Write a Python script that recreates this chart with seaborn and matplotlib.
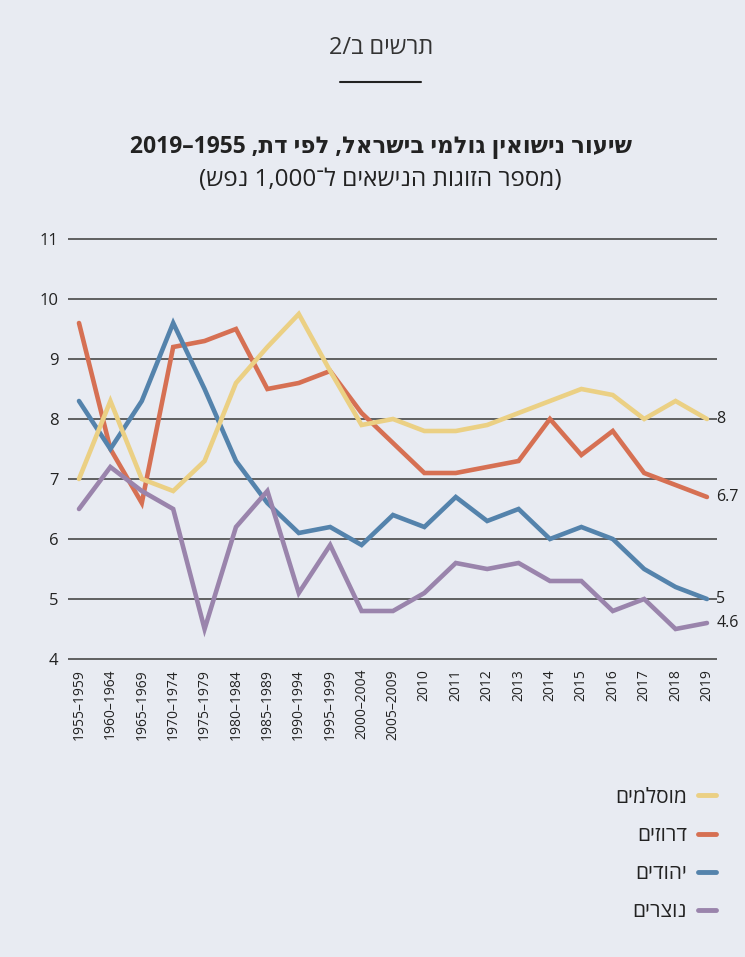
import re
import pandas as pd
import matplotlib
matplotlib.use("Agg")
import matplotlib.pyplot as plt
import seaborn as sns
from matplotlib.lines import Line2D

periods = ["1955–1959", "1960–1964", "1965–1969", "1970–1974", "1975–1979",
           "1980–1984", "1985–1989", "1990–1994", "1995–1999", "2000–2004",
           "2005–2009", "2010", "2011", "2012", "2013", "2014", "2015",
           "2016", "2017", "2018", "2019"]

muslims = [7.0, 8.3, 7.0, 6.8, 7.3, 8.6, 9.2, 9.75, 8.8, 7.9, 8.0,
           7.8, 7.8, 7.9, 8.1, 8.3, 8.5, 8.4, 8.0, 8.3, 8.0]
druze = [9.6, 7.5, 6.6, 9.2, 9.3, 9.5, 8.5, 8.6, 8.8, 8.1, 7.6,
         7.1, 7.1, 7.2, 7.3, 8.0, 7.4, 7.8, 7.1, 6.9, 6.7]
jews = [8.3, 7.5, 8.3, 9.6, 8.5, 7.3, 6.6, 6.1, 6.2, 5.9, 6.4,
        6.2, 6.7, 6.3, 6.5, 6.0, 6.2, 6.0, 5.5, 5.2, 5.0]
christians = [6.5, 7.2, 6.8, 6.5, 4.5, 6.2, 6.8, 5.1, 5.9, 4.8, 4.8,
              5.1, 5.6, 5.5, 5.6, 5.3, 5.3, 4.8, 5.0, 4.5, 4.6]

groups = ["מוסלמים", "דרוזים", "יהודים", "נוצרים"]
colors = ["#ebd084", "#d67053", "#5483ac", "#9a84ac"]
end_labels = ["8", "6.7", "5", "4.6"]

BG = "#e8ebf2"


def rtl(s):
    # matplotlib has no bidi support: reverse to visual order, keep numbers
    rev = s[::-1]
    rev = re.sub(r"[0-9][0-9,.]*[0-9]|[0-9]", lambda m: m.group(0)[::-1], rev)
    return rev.translate(str.maketrans("()", ")("))


def main():
    series = [muslims, druze, jews, christians]
    rows = []
    for name, vals in zip(groups, series):
        for i, v in enumerate(vals):
            rows.append({"idx": i, "value": v, "group": rtl(name)})
    df = pd.DataFrame(rows)

    sns.set_style("white")
    plt.rcParams["font.family"] = ["Open Sans", "DejaVu Sans"]

    fig = plt.figure(figsize=(7.45, 9.57), dpi=100, facecolor=BG)
    ax = fig.add_axes([68 / 745, 1 - 662 / 957, (717 - 68) / 745, (662 - 236) / 957])
    ax.set_facecolor(BG)

    hue_order = [rtl(g) for g in groups]
    sns.lineplot(data=df, x="idx", y="value", hue="group", hue_order=hue_order,
                 palette=colors, linewidth=3.3, ax=ax, legend=False,
                 solid_capstyle="round", solid_joinstyle="miter")
    # muslims line sits on top in the original
    ax.get_lines()[0].set_zorder(5)

    ax.set_xlim(-0.35, 20.32)
    ax.set_ylim(3.95, 11.05)
    ax.set_yticks(range(4, 12))
    ax.set_xticks(range(len(periods)))
    ax.set_xticklabels(periods, rotation=90, fontsize=10, color="#222222")
    ax.tick_params(axis="y", labelsize=12, colors="#222222", length=0, pad=7)
    ax.tick_params(axis="x", length=0, pad=5)
    ax.grid(axis="y", color="#3a3a3a", linewidth=1.1)
    ax.set_axisbelow(True)
    for sp in ax.spines.values():
        sp.set_visible(False)
    ax.set_xlabel("")
    ax.set_ylabel("")

    for vals, lab in zip(series, end_labels):
        ax.text(len(vals) - 1 + 0.3, vals[-1], lab, fontsize=11.5,
                va="center", ha="left", color="#222222")

    # titles
    fig.text(0.511, 1 - 48 / 957, rtl("תרשים ב/2"), ha="center", va="center",
             fontsize=17, color="#333333")
    fig.add_artist(Line2D([340 / 745, 421 / 745], [1 - 82 / 957] * 2,
                          color="#222222", linewidth=1.5))
    fig.text(0.511, 1 - 147 / 957, rtl("שיעור נישואין גולמי בישראל, לפי דת, 1955–2019"),
             ha="center", va="center", fontsize=16.5, fontweight="bold", color="#222222")
    fig.text(0.511, 1 - 180 / 957, rtl("(מספר הזוגות הנישאים ל־1,000 נפש)"),
             ha="center", va="center", fontsize=17.5, color="#222222")

    # legend on the lower right, line after text
    handles = [Line2D([0], [0], color=c, linewidth=3.5) for c in colors]
    fig.legend(handles, hue_order, loc="upper right",
               bbox_to_anchor=(735 / 745, 1 - 768 / 957), frameon=False,
               markerfirst=False, fontsize=15, handlelength=0.9,
               handletextpad=0.5, labelspacing=0.82, labelcolor="#222222")

    fig.savefig("out.png", dpi=100, facecolor=BG)


main()
